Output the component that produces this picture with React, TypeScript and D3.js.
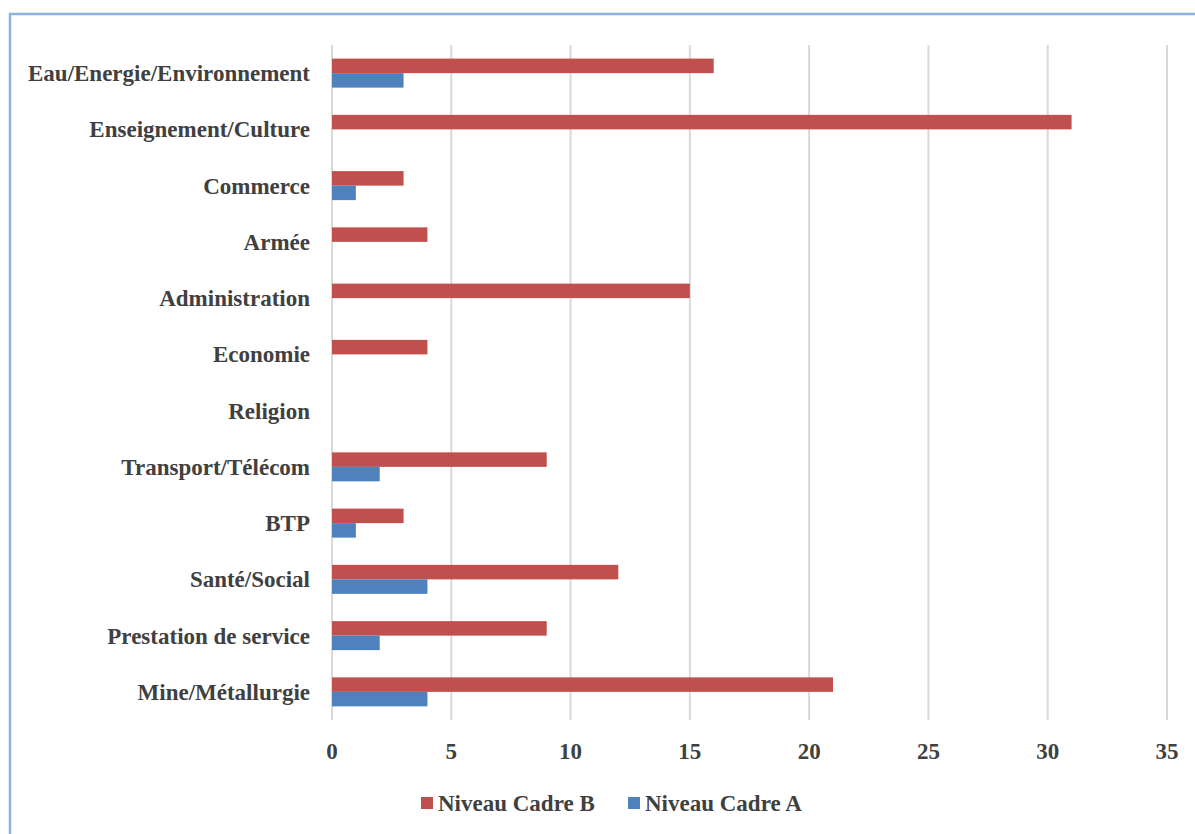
import React from "react";
import * as d3 from "d3";

const categories = [
  "Eau/Energie/Environnement",
  "Enseignement/Culture",
  "Commerce",
  "Armée",
  "Administration",
  "Economie",
  "Religion",
  "Transport/Télécom",
  "BTP",
  "Santé/Social",
  "Prestation de service",
  "Mine/Métallurgie",
];
const cadreB = [16, 31, 3, 4, 15, 4, 0, 9, 3, 12, 9, 21];
const cadreA = [3, 0, 1, 0, 0, 0, 0, 2, 1, 4, 2, 4];
const xTicks = [0, 5, 10, 15, 20, 25, 30, 35];
const seriesNames = ["Niveau Cadre B", "Niveau Cadre A"];
const colors = ["#C0504D", "#4F81BD"];

const W = 1195;
const H = 834;
const left = 332;
const right = 1167;
const top = 45;
const bottom = 720;
const font = "Liberation Serif, Times New Roman, serif";
const textColor = "#404040";

export default function App() {
  const x = d3.scaleLinear().domain([0, 35]).range([left, right]);
  const y = d3.scaleBand<string>().domain(categories).range([top, bottom]);
  const barH = 14.5;

  return (
    <svg
      width={W}
      height={H}
      style={{ position: "fixed", top: 0, left: 0, background: "#fff" }}
    >
      <rect x={0} y={0} width={W} height={H} fill="#fff" />
      <rect
        x={10}
        y={14}
        width={W + 20}
        height={H + 20}
        fill="none"
        stroke="#8DB3E2"
        strokeWidth={2.5}
      />
      {xTicks.map((t) => (
        <line
          key={t}
          x1={x(t)}
          x2={x(t)}
          y1={top}
          y2={bottom}
          stroke="#D9D9D9"
          strokeWidth={2}
        />
      ))}
      {categories.map((c, i) => {
        const cy = (y(c) as number) + y.bandwidth() / 2;
        return (
          <g key={c}>
            {cadreB[i] > 0 && (
              <rect
                x={x(0)}
                y={cy - barH}
                width={x(cadreB[i]) - x(0)}
                height={barH}
                fill={colors[0]}
              />
            )}
            {cadreA[i] > 0 && (
              <rect
                x={x(0)}
                y={cy}
                width={x(cadreA[i]) - x(0)}
                height={barH}
                fill={colors[1]}
              />
            )}
            <text
              x={310}
              y={cy}
              dy="0.35em"
              textAnchor="end"
              style={{ fontFamily: font }}
              fontWeight="bold"
              fontSize={23}
              fill={textColor}
            >
              {c}
            </text>
          </g>
        );
      })}
      {xTicks.map((t) => (
        <text
          key={"l" + t}
          x={x(t)}
          y={751}
          dy="0.35em"
          textAnchor="middle"
          style={{ fontFamily: font }}
          fontWeight="bold"
          fontSize={23}
          fill={textColor}
        >
          {t}
        </text>
      ))}
      {seriesNames.map((s, i) => {
        const lx = i === 0 ? 421 : 628;
        return (
          <g key={s}>
            <rect x={lx} y={797} width={12} height={12} fill={colors[i]} />
            <text
              x={lx + 17}
              y={803}
              dy="0.35em"
              style={{ fontFamily: font }}
              fontWeight="bold"
              fontSize={23}
              fill={textColor}
            >
              {s}
            </text>
          </g>
        );
      })}
    </svg>
  );
}
